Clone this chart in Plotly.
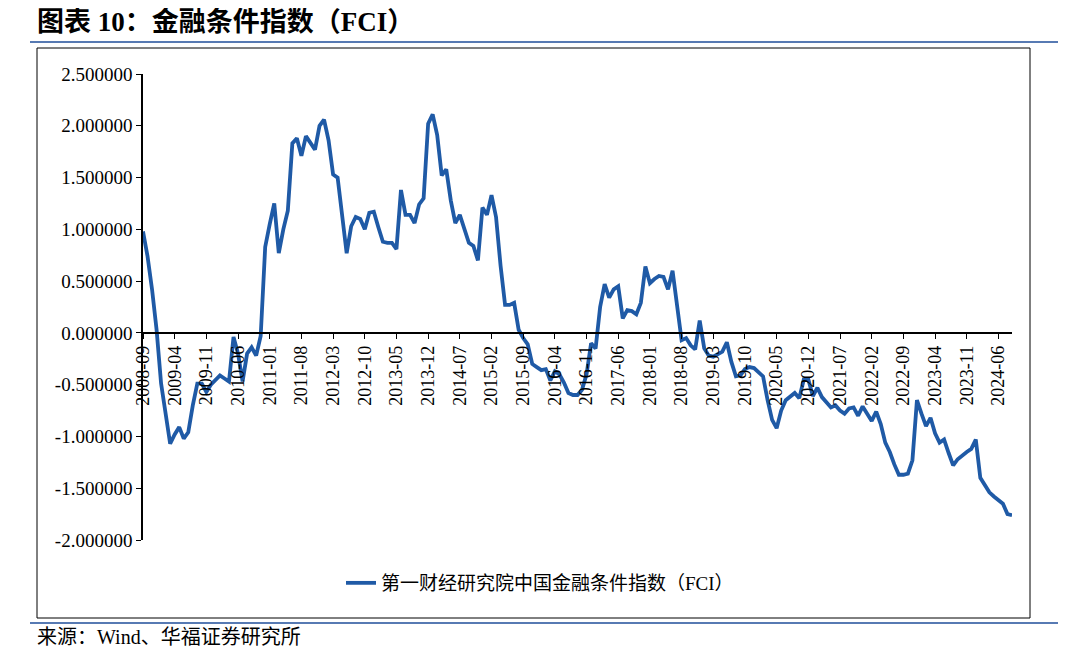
import plotly.graph_objects as go

fci = [0.98,0.74,0.42,0.03,-0.49,-0.80,-1.07,-0.98,-0.91,-1.02,-0.96,-0.70,-0.49,-0.49,-0.57,-0.50,-0.45,-0.41,-0.44,-0.47,
-0.04,-0.20,-0.47,-0.20,-0.14,-0.22,-0.03,0.83,1.05,1.25,0.77,1.00,1.18,1.83,1.88,1.71,1.90,1.83,1.77,2.00,
2.06,1.86,1.53,1.50,1.12,0.77,1.03,1.12,1.10,1.00,1.16,1.17,1.02,0.88,0.87,0.87,0.81,1.38,1.14,1.14,
1.06,1.24,1.30,2.02,2.11,1.91,1.52,1.58,1.28,1.06,1.14,0.99,0.87,0.84,0.70,1.21,1.14,1.33,1.12,0.65,
0.27,0.27,0.29,0.03,-0.05,-0.11,-0.30,-0.33,-0.36,-0.35,-0.46,-0.37,-0.40,-0.48,-0.58,-0.60,-0.60,-0.55,-0.40,-0.10,
-0.15,0.25,0.47,0.34,0.42,0.45,0.14,0.22,0.21,0.18,0.29,0.64,0.48,0.52,0.55,0.54,0.42,0.60,0.25,-0.07,
-0.05,-0.12,-0.16,0.12,-0.15,-0.22,-0.23,-0.20,-0.18,-0.09,-0.28,-0.42,-0.41,-0.35,-0.33,-0.34,-0.38,-0.42,-0.65,-0.84,
-0.92,-0.75,-0.65,-0.62,-0.58,-0.63,-0.45,-0.45,-0.61,-0.53,-0.62,-0.67,-0.72,-0.70,-0.75,-0.78,-0.73,-0.72,-0.80,-0.71,
-0.78,-0.85,-0.76,-0.88,-1.06,-1.15,-1.27,-1.37,-1.37,-1.36,-1.23,-0.65,-0.78,-0.90,-0.82,-0.97,-1.06,-1.03,-1.16,-1.28,
-1.22,-1.18,-1.15,-1.12,-1.03,-1.40,-1.47,-1.54,-1.58,-1.62,-1.65,-1.75,-1.76]

dates = []
y, m = 2008, 9
for _ in fci:
    dates.append(f"{y}-{m:02d}")
    m += 1
    if m > 12:
        m = 1; y += 1
tick_idx = list(range(0, len(fci), 7))
tick_lab = [dates[i] for i in tick_idx]
yticks = [2.5, 2.0, 1.5, 1.0, 0.5, 0.0, -0.5, -1.0, -1.5, -2.0]

W, H = 1080, 663
O = 8  # page body offset
L, R, T, B = 143 - O, 1012 - O, 74 - O, 540 - O
def px(x): return (x - O - L) / (R - L)
def py(y): return (B - (y - O)) / (B - T)

FONT = "Liberation Serif, Noto Sans CJK SC"
fig = go.Figure()
fig.add_trace(go.Scatter(x=list(range(len(fci))), y=fci, mode="lines",
    line=dict(color="#1F5AA6", width=3.8), name="第一财经研究院中国金融条件指数（FCI）"))

fig.update_layout(
    width=W, height=H, margin=dict(l=L, r=W-R, t=T, b=H-B, autoexpand=False),
    paper_bgcolor="white", plot_bgcolor="white",
    font=dict(family=FONT, size=19, color="black"),
    showlegend=True,
    legend=dict(orientation="h", x=px(540), xanchor="center", y=py(583), yanchor="middle",
                font=dict(family=FONT, size=19)),
    xaxis=dict(range=[0, len(fci)-1], tickvals=tick_idx, ticktext=tick_lab, tickangle=-90,
               showgrid=False, zeroline=False, showline=True, linecolor="black", linewidth=1.5,
               ticks="outside", ticklen=5, tickcolor="black", anchor="free", position=2/4.5,
               tickfont=dict(size=18)),
    yaxis=dict(range=[-2.0, 2.5], tickvals=yticks, ticktext=[f"{v:.6f}" for v in yticks],
               showgrid=False, zeroline=False, showline=True, linecolor="black", linewidth=1.5,
               ticks="outside", ticklen=5, tickcolor="black", tickfont=dict(size=19)),
)
fig.add_shape(type="rect", xref="paper", yref="paper", x0=px(37), x1=px(1030), y0=py(618), y1=py(48),
              line=dict(color="black", width=1))
fig.add_shape(type="line", xref="paper", yref="paper", x0=px(30), x1=px(1058), y0=py(42), y1=py(42),
              line=dict(color="#1F4E9A", width=1.5))
fig.add_shape(type="line", xref="paper", yref="paper", x0=px(30), x1=px(1058), y0=py(623), y1=py(623),
              line=dict(color="#1F4E9A", width=1.5))
fig.add_annotation(xref="paper", yref="paper", x=px(35), y=py(22), xanchor="left", yanchor="middle",
                   text="<b>图表 10：金融条件指数（FCI）</b>", showarrow=False,
                   font=dict(family=FONT, size=27))
fig.add_annotation(xref="paper", yref="paper", x=px(35), y=py(637), xanchor="left", yanchor="middle",
                   text="来源：Wind、华福证券研究所", showarrow=False,
                   font=dict(family=FONT, size=20))
fig.write_html("out.html")
